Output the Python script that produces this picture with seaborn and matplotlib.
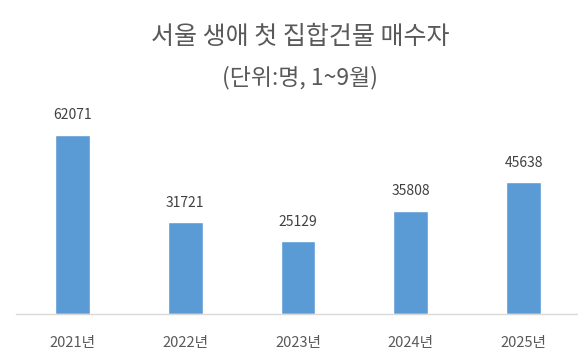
import matplotlib
matplotlib.use("Agg")
import matplotlib.pyplot as plt
import seaborn as sns
import pandas as pd

years = ["2021년", "2022년", "2023년", "2024년", "2025년"]
buyers = [62071, 31721, 25129, 35808, 45638]
title = "서울 생애 첫 집합건물 매수자"
subtitle = "(단위:명, 1~9월)"

sns.set_theme(style="white")
plt.rcParams['font.family'] = ['Noto Sans CJK KR', 'DejaVu Sans']

df = pd.DataFrame({"year": years, "buyers": buyers})

fig = plt.figure(figsize=(5.78, 3.56), dpi=100)
ax = fig.add_axes([16/578, (356-314)/356, 564/578, (314-112)/356])
sns.barplot(data=df, x="year", y="buyers", color="#5B9BD5", width=0.31,
            saturation=1, ax=ax)
ax.set_xlim(-0.5, 4.5)
ax.set_ylim(0, 70000)
ax.set_xlabel("")
ax.set_ylabel("")
ax.set_yticks([])
for s in ["top", "left", "right"]:
    ax.spines[s].set_visible(False)
ax.spines["bottom"].set_color("#D9D9D9")
ax.spines["bottom"].set_linewidth(1)
ax.tick_params(axis="x", length=0, pad=16, labelsize=10.5, labelcolor="#595959")
for c in ax.containers:
    ax.bar_label(c, fmt="%d", padding=9, fontsize=10, color="#404040")

fig.text(0.519, (356-37)/356, title, ha="center", va="center",
         fontsize=18, color="#595959")
fig.text(0.519, (356-78)/356, subtitle, ha="center", va="center",
         fontsize=16.5, color="#595959")
fig.savefig("out.png", dpi=100)
